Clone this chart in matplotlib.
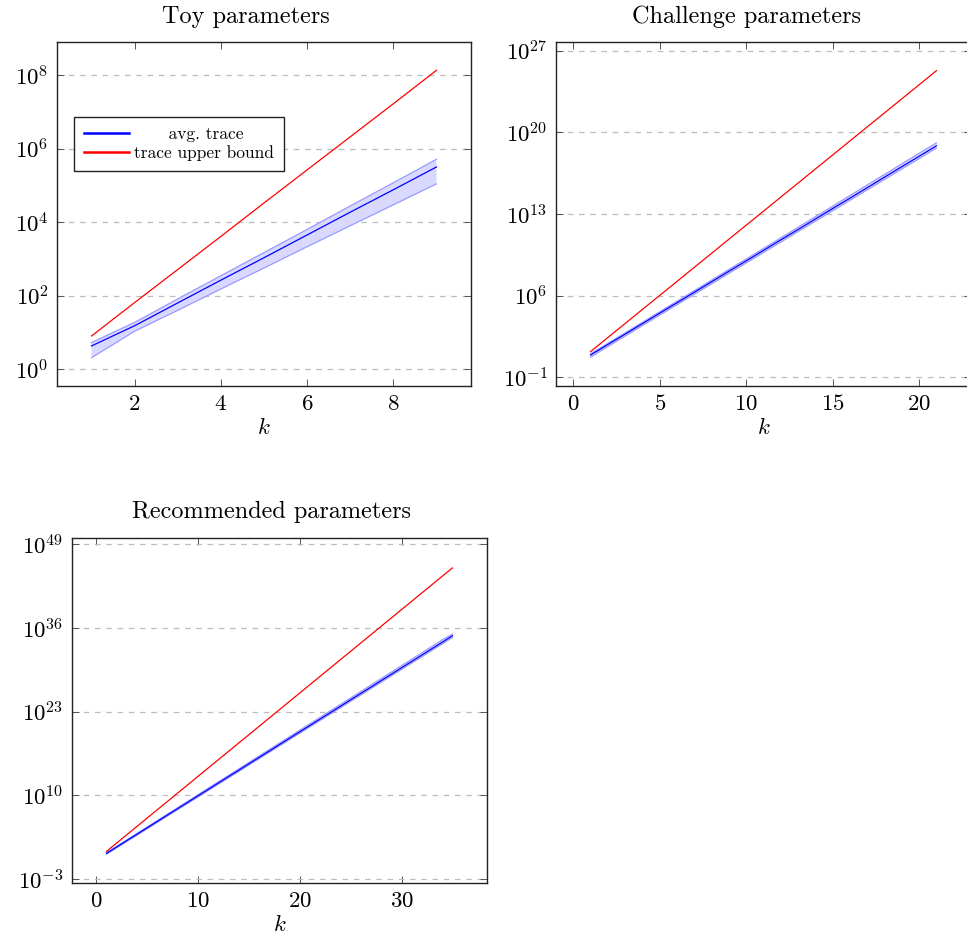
import numpy as np
import matplotlib
matplotlib.use("Agg")
import matplotlib.pyplot as plt
from matplotlib.ticker import FixedLocator, FuncFormatter, NullLocator

plt.rcParams["font.family"] = "cmr10"
plt.rcParams["mathtext.fontset"] = "cm"
plt.rcParams["axes.unicode_minus"] = False

# ---- data (log10 of the trace values) ----
toy_k = [1, 2, 3, 4, 5, 6, 7, 8, 9]
toy_mean = [0.63, 1.18, 1.80, 2.42, 3.03, 3.65, 4.27, 4.88, 5.50]
toy_hi = [0.72, 1.27, 1.91, 2.54, 3.17, 3.80, 4.44, 5.07, 5.71]
toy_lo = [0.31, 1.03, 1.60, 2.18, 2.75, 3.33, 3.90, 4.47, 5.04]
toy_bound = [0.90, 1.81, 2.71, 3.61, 4.52, 5.42, 6.32, 7.22, 8.13]

chal_k = list(range(1, 22))
chal_mean = [0.91, 1.81, 2.70, 3.60, 4.50, 5.39, 6.29, 7.19, 8.09, 8.98, 9.88,
             10.78, 11.67, 12.57, 13.47, 14.36, 15.26, 16.16, 17.06, 17.95, 18.85]
chal_hi = [1.01, 1.91, 2.81, 3.71, 4.62, 5.52, 6.42, 7.33, 8.24, 9.14, 10.05,
           10.95, 11.86, 12.77, 13.67, 14.58, 15.49, 16.39, 17.30, 18.21, 19.10]
chal_lo = [0.72, 1.63, 2.53, 3.43, 4.33, 5.22, 6.12, 7.01, 7.91, 8.80, 9.70,
           10.59, 11.49, 12.38, 13.28, 14.17, 15.07, 15.96, 16.86, 17.75, 18.65]
chal_bound = [1.20, 2.41, 3.61, 4.82, 6.02, 7.22, 8.43, 9.63, 10.84, 12.04, 13.24,
              14.45, 15.65, 16.86, 18.06, 19.27, 20.47, 21.67, 22.88, 24.08, 25.29]

rec_k = list(range(1, 36))
rec_mean = [0.99, 1.98, 2.98, 3.97, 4.97, 5.96, 6.96, 7.95, 8.94, 9.94, 10.93, 11.93,
            12.92, 13.91, 14.91, 15.90, 16.89, 17.89, 18.88, 19.88, 20.87, 21.86,
            22.86, 23.85, 24.85, 25.84, 26.83, 27.83, 28.82, 29.82, 30.81, 31.80,
            32.80, 33.79, 34.79]
rec_hi = [1.09, 2.09, 3.09, 4.09, 5.10, 6.10, 7.10, 8.10, 9.10, 10.11, 11.11, 12.11,
          13.11, 14.11, 15.12, 16.12, 17.12, 18.12, 19.12, 20.13, 21.13, 22.13,
          23.13, 24.13, 25.14, 26.14, 27.14, 28.14, 29.14, 30.15, 31.15, 32.15,
          33.15, 34.15, 35.05]
rec_lo = [0.85, 1.84, 2.83, 3.82, 4.81, 5.80, 6.79, 7.78, 8.77, 9.76, 10.75, 11.74,
          12.73, 13.72, 14.71, 15.70, 16.69, 17.68, 18.67, 19.66, 20.65, 21.64,
          22.63, 23.62, 24.61, 25.60, 26.59, 27.58, 28.57, 29.56, 30.55, 31.54,
          32.53, 33.52, 34.51]
rec_bound = [1.30, 2.60, 3.89, 5.19, 6.48, 7.78, 9.07, 10.37, 11.66, 12.96, 14.25,
             15.55, 16.84, 18.14, 19.43, 20.73, 22.02, 23.32, 24.61, 25.91, 27.20,
             28.50, 29.79, 31.09, 32.38, 33.68, 34.97, 36.27, 37.56, 38.86, 40.15,
             41.45, 42.74, 44.04, 45.33]

titles = ["Toy parameters", "Challenge parameters", "Recommended parameters"]
yticks = [[0, 2, 4, 6, 8], [-1, 6, 13, 20, 27], [-3, 10, 23, 36, 49]]
xticks = [[2, 4, 6, 8], [0, 5, 10, 15, 20], [0, 10, 20, 30]]
xlims = [(0.2, 9.8), (-1, 23), (-2.4, 38.4)]
ylims = [(-0.46, 8.9), (-1.75, 27.75), (-3.62, 49.98)]


def exp10(v):
    return 10.0 ** np.asarray(v)


fig = plt.figure(figsize=(9.67, 9.42), dpi=100)
W, H = 967.0, 942.0
boxes = [(57, 42, 471, 386), (556, 42, 971, 386), (72, 538, 487, 883)]
title_pos = [(246, 17), (746, 17), (271, 512)]

series = [(toy_k, toy_mean, toy_hi, toy_lo, toy_bound),
          (chal_k, chal_mean, chal_hi, chal_lo, chal_bound),
          (rec_k, rec_mean, rec_hi, rec_lo, rec_bound)]

for i, (k, mean, hi, lo, bound) in enumerate(series):
    x0, y0, x1, y1 = boxes[i]
    ax = fig.add_axes([x0 / W, 1 - y1 / H, (x1 - x0) / W, (y1 - y0) / H])
    ax.set_yscale("log")

    ax.fill_between(k, exp10(lo), exp10(hi), facecolor="#d9d9ff",
                    edgecolor="none", zorder=2)
    ax.plot(k, exp10(hi), color="#9a9aff", lw=0.9, zorder=3)
    ax.plot(k, exp10(lo), color="#9a9aff", lw=0.9, zorder=3)
    ax.plot(k, exp10(mean), color="#0000ff", lw=0.9, zorder=4)
    ax.plot(k, exp10(bound), color="#ff0000", lw=0.9, zorder=4)

    ax.set_xlim(*xlims[i])
    ax.set_ylim(10.0 ** ylims[i][0], 10.0 ** ylims[i][1])
    ax.yaxis.set_major_locator(FixedLocator([10.0 ** e for e in yticks[i]]))
    ax.yaxis.set_minor_locator(NullLocator())
    ax.yaxis.set_major_formatter(
        FuncFormatter(lambda v, p: r"$10^{%d}$" % int(round(np.log10(v)))))
    ax.set_xticks(xticks[i])
    ax.xaxis.set_major_formatter(FuncFormatter(lambda v, p: r"$%d$" % v))

    ax.grid(axis="y", color="#bdbdbd", lw=0.9, linestyle=(0, (4.5, 4.5)), zorder=1)
    ax.tick_params(direction="in", top=True, right=True, length=5, width=0.7,
                   color="#555555", labelsize=16.5, pad=6)
    for s in ax.spines.values():
        s.set_linewidth(1.0)
        s.set_color("#222222")
        s.set_zorder(5)
    ax.set_xlabel(r"$k$", fontsize=16.5, labelpad=2)

    fig.text(title_pos[i][0] / W, 1 - title_pos[i][1] / H, titles[i],
             ha="center", va="center", fontsize=17.5, family="cmr10")

    if i == 0:
        h1 = plt.Line2D([], [], color="#0000ff", lw=1.8)
        h2 = plt.Line2D([], [], color="#ff0000", lw=1.8)
        leg = ax.legend([h1, h2], ["      avg. trace", "trace upper bound"],
                        loc="upper left", bbox_to_anchor=(0.041, 0.783),
                        borderaxespad=0, fancybox=False, edgecolor="#222222",
                        framealpha=1, handlelength=2.6,
                        handletextpad=0.3, borderpad=0.58, labelspacing=0.2,
                        prop={"family": "cmr10", "size": 12.5})
        leg.get_frame().set_linewidth(1.0)
        leg.set_zorder(6)

fig.savefig("out.png", dpi=100)
